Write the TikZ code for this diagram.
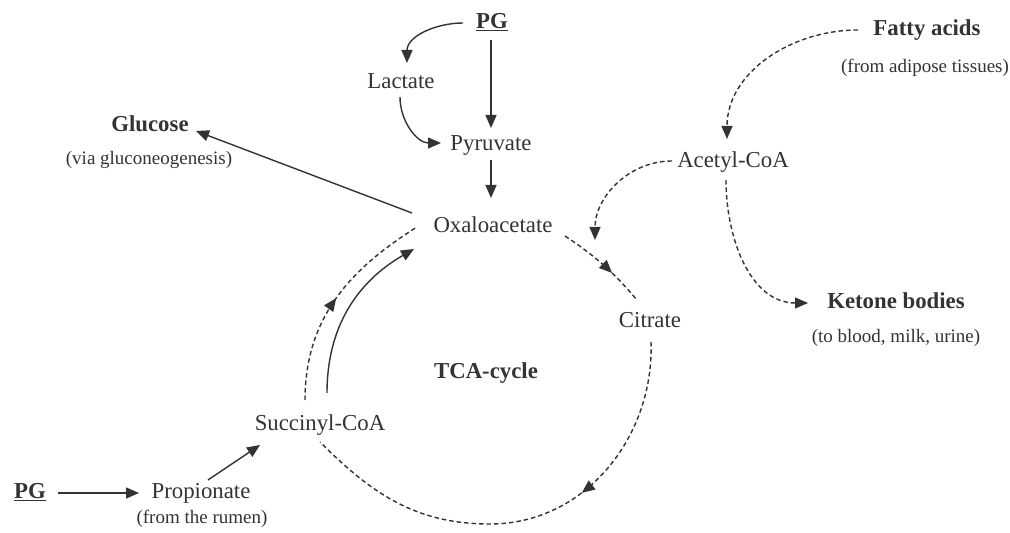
\documentclass[tikz,border=0pt]{standalone}
\usepackage{fontspec}
\setmainfont{Liberation Serif}
\usetikzlibrary{arrows.meta,decorations.markings}
\definecolor{ink}{HTML}{333333}
\begin{document}
\begin{tikzpicture}[x=1pt,y=1pt,
  lbl/.style={inner sep=0pt, text height=14pt, text depth=2pt, font=\fontsize{22.8}{26}\selectfont, text=ink},
  blbl/.style={lbl, font=\fontsize{22.8}{26}\selectfont\bfseries},
  sub/.style={inner sep=0pt, text height=12pt, text depth=2pt, font=\fontsize{19}{22}\selectfont, text=ink},
  tip/.style={-{Triangle[length=13pt,width=11pt]}},
  arr/.style={draw=ink, line width=1.4pt, tip},
  ddash/.style={draw=ink, line width=1.4pt, dash pattern=on 4.5pt off 3pt},
  darr/.style={ddash, tip},
  midarr/.style={postaction={decorate}, decoration={markings, mark=at position #1 with {\arrow[ink]{Triangle[length=13pt,width=11pt]}}}},
]
\useasboundingbox[fill=white] (0,0) rectangle (1010,533);

% nodes
\node[blbl] (pga) at (492,510) {\underline{PG}};
\node[lbl] (lac) at (401,450) {Lactate};
\node[lbl] (pyr) at (491,388) {Pyruvate};
\node[lbl] (oxa) at (493,306) {Oxaloacetate};
\node[blbl] (glu) at (150,407) {Glucose};
\node[sub] (gluv) at (149,373) {(via gluconeogenesis)};
\node[blbl] (fat) at (927,503) {Fatty acids};
\node[sub] (fatv) at (925,465) {(from adipose tissues)};
\node[lbl] (ace) at (733,371) {Acetyl-CoA};
\node[lbl] (cit) at (650,211) {Citrate};
\node[blbl] (ket) at (896,230) {Ketone bodies};
\node[sub] (ketv) at (896,195) {(to blood, milk, urine)};
\node[blbl] (tca) at (486,160) {TCA-cycle};
\node[lbl] (suc) at (320,108) {Succinyl-CoA};
\node[blbl] (pgb) at (30,40) {\underline{PG}};
\node[lbl] (pro) at (201,40) {Propionate};
\node[sub] (prov) at (202,14) {(from the rumen)};
\coordinate (bot) at (490,9);
\coordinate (join) at (595,293);

% solid connectors
\draw[arr] ([shift={(-29,0)}]pga.center) to[out=180,in=90] ([shift={(6,20)}]lac.center);
\draw[arr] ([shift={(-1,-17)}]pga.center) -- ([shift={(0,17)}]pyr.center);
\draw[arr] ([shift={(-1,-14)}]lac.center) to[out=-90,in=180] ([shift={(-50,2)}]pyr.center);
\draw[arr] ([shift={(0,-15)}]pyr.center) -- ([shift={(-2,29)}]oxa.center);
\draw[arr] ([shift={(-81,14)}]oxa.center) -- ([shift={(46,-5)}]glu.center);
\draw[arr] ([shift={(7,32)}]suc.center) to[out=90,in=-150] ([shift={(-79,-22)}]oxa.center);
\draw[arr] ([shift={(28,0)}]pgb.center) -- ([shift={(-62,0)}]pro.center);
\draw[arr] ([shift={(7,13)}]pro.center) -- ([shift={(-60,-20)}]suc.center);

% dashed connectors
\draw[darr] ([shift={(-69,0)}]fat.center) to[out=180,in=90] ([shift={(-6,23)}]ace.center);
\draw[darr] ([shift={(-61,1)}]ace.center) to[out=180,in=90] (join);
\draw[darr] ([shift={(-7,-18)}]ace.center) to[out=-90,in=180] ([shift={(-88,0)}]ket.center);

% TCA cycle
\draw[ddash, midarr=0.62] ([shift={(72,-9)}]oxa.center) to[bend left=8] ([shift={(-13,22)}]cit.center);
\draw[ddash, midarr=0.37] ([shift={(1,-20)}]cit.center) to[out=-88,in=0] (bot) to[out=180,in=-45] ([shift={(0,-17)}]suc.center);
\draw[ddash, midarr=0.5] ([shift={(-15,25)}]suc.center) to[out=90,in=-148] ([shift={(-76,0)}]oxa.center);
\end{tikzpicture}
\end{document}
